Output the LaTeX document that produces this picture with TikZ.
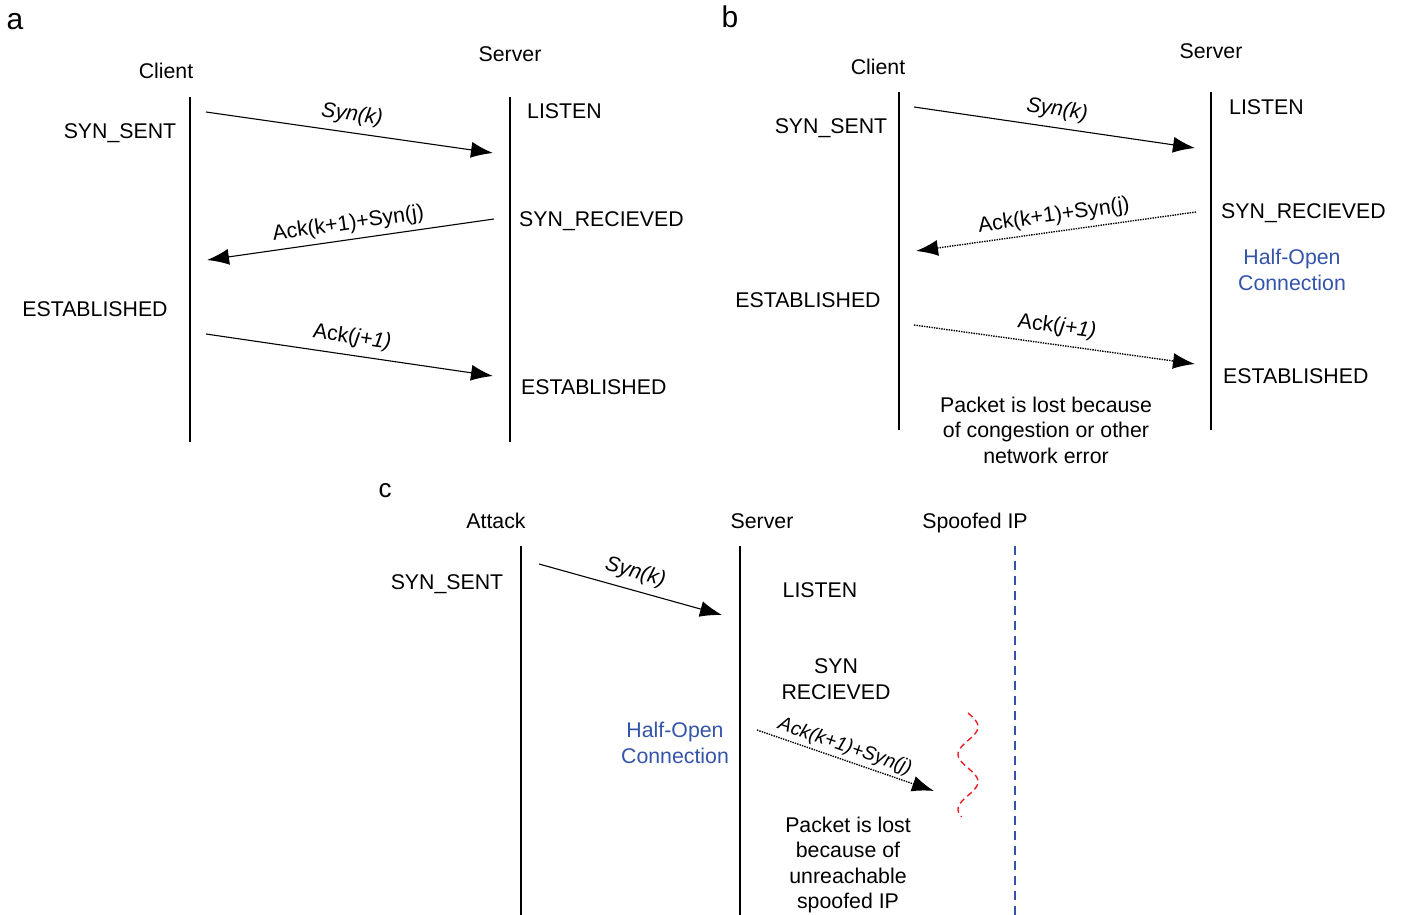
\documentclass[tikz,border=0pt]{standalone}
\usepackage{fontspec}
\setmainfont{Liberation Sans}
\usetikzlibrary{arrows.meta}
\definecolor{hoblue}{RGB}{52,84,170}
\definecolor{lostred}{RGB}{235,30,40}

\begin{document}
\begin{tikzpicture}[x=1pt,y=-1pt,inner sep=0pt,>={Latex[length=22pt,width=16pt]},
  txt/.style={font=\fontsize{21.3}{25.5}\selectfont},
  panel/.style={font=\fontsize{30}{30}\selectfont,anchor=base},
  life/.style={line width=1.2pt},
  msg/.style={->,line width=1.1pt},
  lostmsg/.style={msg,line width=1.4pt,dash pattern=on 1.4pt off 1.1pt},
  halfopen/.style={txt,align=center,text=hoblue},
  lbl/.style={txt,midway,sloped}]
\useasboundingbox (0,0) rectangle (1402,915);

% (a) normal handshake
\node [panel] (pa) at (15,30) {a};
\node [txt,anchor=base] (aclient) at (166,79) {Client};
\node [txt,anchor=base] (aserver) at (510,62) {Server};
\draw [life] (190,97) coordinate (ac1) -- (190,442) coordinate (ac2);
\draw [life] (510,97) coordinate (as1) -- (510,442) coordinate (as2);
\node [txt,anchor=base] (asent) at (120,139) {SYN\_SENT};
\node [txt,anchor=base west] (alisten) at (527,118) {LISTEN};
\node [txt,anchor=base west] (arecv) at (519,226) {SYN\_RECIEVED};
\node [txt,anchor=base] (aestc) at (95,316) {ESTABLISHED};
\node [txt,anchor=base west] (aests) at (521,394) {ESTABLISHED};
\coordinate (a1) at (206,112); \coordinate (a2) at (493,153);
\coordinate (a3) at (494,219); \coordinate (a4) at (207,260);
\coordinate (a5) at (206,334); \coordinate (a6) at (493,376);
\draw [msg] (a1) -- node [lbl,above=7pt] {\textit{Syn(k)}} (a2);
\draw [msg] (a3) -- node [lbl,above=5pt] {Ack(k+1)+Syn(j)} (a4);
\draw [msg] (a5) -- node [lbl,above=7pt] {Ack(\textit{j+1)}} (a6);

% (b) lost ack
\node [panel] (pb) at (730,28) {b};
\node [txt,anchor=base] (bclient) at (878,75) {Client};
\node [txt,anchor=base] (bserver) at (1211,59) {Server};
\draw [life] (899,92) coordinate (bc1) -- (899,430) coordinate (bc2);
\draw [life] (1211,92) coordinate (bs1) -- (1211,430) coordinate (bs2);
\node [txt,anchor=base] (bsent) at (831,134) {SYN\_SENT};
\node [txt,anchor=base west] (blisten) at (1229,114) {LISTEN};
\node [txt,anchor=base west] (brecv) at (1221,218) {SYN\_RECIEVED};
\node [halfopen] (bhalf) at (1292,270) {Half-Open\\Connection};
\node [txt,anchor=base] (bestc) at (808,307) {ESTABLISHED};
\node [txt,anchor=base west] (bests) at (1223,383) {ESTABLISHED};
\node [txt,align=center] (blost) at (1046,430) {Packet is lost because\\of congestion or other\\network error};
\coordinate (b1) at (914,107); \coordinate (b2) at (1195,148);
\coordinate (b3) at (1196,212); \coordinate (b4) at (916,251);
\coordinate (b5) at (914,325); \coordinate (b6) at (1195,364);
\draw [msg] (b1) -- node [lbl,above=7pt] {\textit{Syn(k)}} (b2);
\draw [lostmsg] (b3) -- node [lbl,above=5pt] {Ack(k+1)+Syn(j)} (b4);
\draw [lostmsg] (b5) -- node [lbl,above=7pt] {Ack(\textit{j+1)}} (b6);

% (c) spoofed source
\node [panel,font=\fontsize{26}{26}\selectfont] (pc) at (385,497) {c};
\node [txt,anchor=base] (cattack) at (496,528) {Attack};
\node [txt,anchor=base] (cserver) at (762,528) {Server};
\node [txt,anchor=base] (cspoof) at (975,528) {Spoofed IP};
\draw [life] (521,546) coordinate (ca1) -- (521,915) coordinate (ca2);
\draw [life] (740,546) coordinate (cs1) -- (740,915) coordinate (cs2);
\draw [hoblue,line width=1.3pt,dash pattern=on 9pt off 6pt] (1015,546) coordinate (cp1) -- (1015,915) coordinate (cp2);
\node [txt,anchor=base] (csent) at (447,589) {SYN\_SENT};
\node [txt,anchor=base] (clisten) at (820,597) {LISTEN};
\node [txt,align=center] (crecv) at (836,679) {SYN\\RECIEVED};
\node [halfopen] (chalf) at (675,743) {Half-Open\\Connection};
\node [txt,align=center] (clost) at (848,865) {Packet is lost\\because of\\unreachable\\spoofed IP};
\coordinate (c1) at (539,564); \coordinate (c2) at (722,615);
\coordinate (c3) at (757,730); \coordinate (c4) at (934,791);
\draw [msg] (c1) -- node [lbl,above=7pt] {\textit{Syn(k)}} (c2);
\draw [lostmsg] (c3) -- node [lbl,above=3pt,xshift=-5pt,font=\fontsize{19.5}{24}\selectfont] {\textit{Ack(k+1)+Syn(j)}} (c4);
\draw [lostred,line width=1.4pt,dash pattern=on 6pt off 4pt]
  plot [domain=0:104,samples=80,smooth] ({968+10*sin(6.545*\x)},{713+\x});
\end{tikzpicture}
\end{document}
